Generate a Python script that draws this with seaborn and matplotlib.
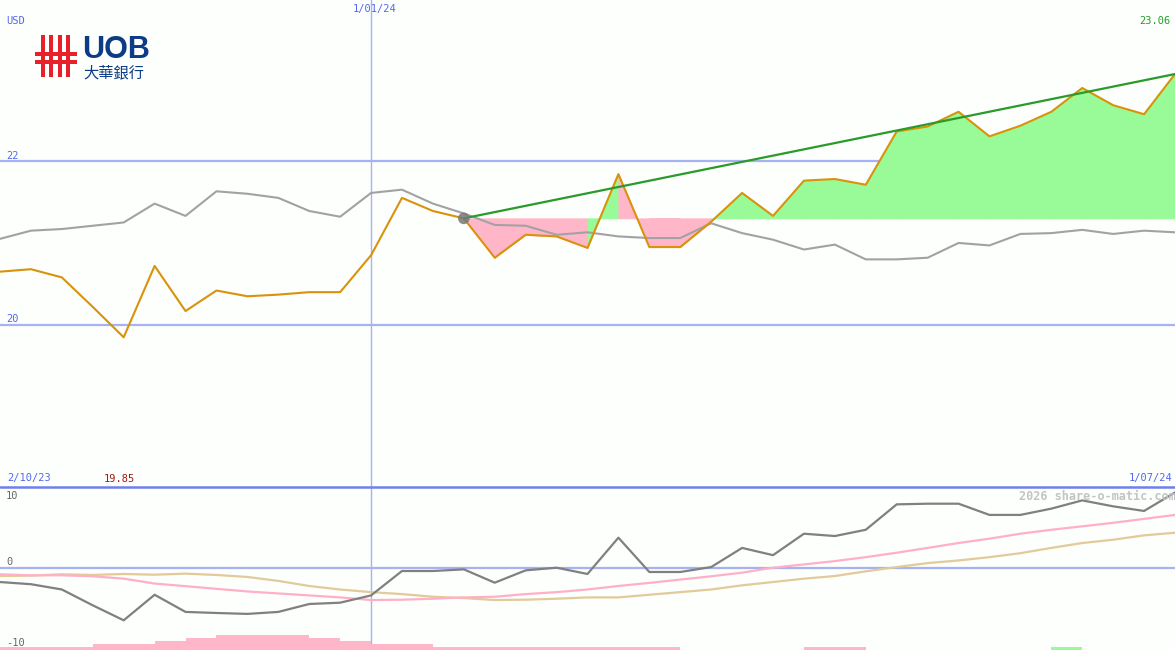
import numpy as np
import matplotlib
matplotlib.use("Agg")  # headless rendering
import matplotlib.pyplot as plt
import seaborn as sns
from matplotlib.patches import Rectangle
from matplotlib.lines import Line2D

# weekly closes, 2/10/23 .. 1/07/24 (USD)
price = [20.65, 20.68, 20.58, 20.22, 19.85, 20.72, 20.17, 20.42, 20.35, 20.37,
         20.40, 20.40, 20.85, 21.55, 21.39, 21.30, 20.82, 21.10, 21.08, 20.94,
         21.84, 20.95, 20.95, 21.26, 21.61, 21.33, 21.76, 21.78, 21.71, 22.36,
         22.42, 22.60, 22.30, 22.43, 22.60, 22.89, 22.68, 22.57, 23.06]
# moving average (grey)
ma = [21.05, 21.15, 21.17, 21.21, 21.25, 21.48, 21.33, 21.63, 21.60, 21.55,
      21.39, 21.32, 21.61, 21.65, 21.48, 21.36, 21.22, 21.21, 21.10, 21.13,
      21.08, 21.06, 21.06, 21.24, 21.12, 21.04, 20.92, 20.98, 20.80, 20.80,
      20.82, 21.00, 20.97, 21.11, 21.12, 21.16, 21.11, 21.15, 21.13]

# lower panel: oscillator + two signal lines + histogram
osc = [-2.17, -2.5, -3.3, -5.7, -7.97, -4.1, -6.7, -6.86, -7.0, -6.7,
       -5.5, -5.3, -4.2, -0.5, -0.5, -0.25, -2.27, -0.4, 0.0, -0.95,
       4.55, -0.65, -0.65, 0.1, 3.0, 1.9, 5.15, 4.8, 5.75, 9.6,
       9.7, 9.7, 8.0, 8.0, 8.95, 10.2, 9.3, 8.6, 11.4]
sig_pink = [-1.0, -1.15, -1.15, -1.3, -1.66, -2.4, -2.8, -3.2, -3.6, -3.9,
            -4.2, -4.5, -4.9, -4.85, -4.7, -4.5, -4.4, -4.0, -3.7, -3.3,
            -2.77, -2.3, -1.8, -1.3, -0.75, 0.0, 0.5, 1.0, 1.6, 2.27,
            3.0, 3.74, 4.4, 5.15, 5.75, 6.27, 6.8, 7.4, 8.0]
sig_tan = [-1.26, -1.2, -1.0, -1.1, -0.95, -1.06, -0.9, -1.1, -1.4, -2.0,
           -2.77, -3.3, -3.7, -4.0, -4.4, -4.6, -4.9, -4.85, -4.7, -4.5,
           -4.5, -4.1, -3.7, -3.3, -2.67, -2.17, -1.66, -1.26, -0.55, 0.1,
           0.7, 1.1, 1.6, 2.2, 3.0, 3.74, 4.24, 4.9, 5.3]
hist = [-0.46, -0.46, -0.46, -0.93, -0.93, -1.39, -1.85, -2.32, -2.32, -2.32,
        -1.85, -1.39, -0.93, -0.93, -0.46, -0.46, -0.46, -0.46, -0.46, -0.46,
        -0.46, -0.46, 0, 0, 0, 0, -0.46, -0.46, 0, 0,
        0, 0, 0, 0, 0.46, 0, 0, 0]

trend_start = 15      # week the trend line / fill starts from
year_week = 12        # 1/01/24
main_levels = [20, 22]
low_levels = [10, 0, -10]
start_label, mid_label, end_label = "2/10/23", "1/01/24", "1/07/24"

BG = "#fcfffc"
GRID = "#a6b2f2"
BLUE = "#5566ee"
GREEN_FILL = "#98fb98"
PINK_FILL = "#ffb6c8"

W, H = 1175, 650
n = len(price)
x = np.arange(n)

sns.set_theme(style="white")
plt.rcParams["font.family"] = ["DejaVu Sans Mono", "Noto Sans CJK TC"]

fig = plt.figure(figsize=(W / 100, H / 100), dpi=100, facecolor=BG)
ax = fig.add_axes([0, 163 / H, 1, 487 / H])
ax2 = fig.add_axes([0, 0, 1, 163 / H])


def ftext(px, py, s, **kw):
    fig.text(px / W, 1 - py / H, s, **kw)


# ---- main panel
for lv in main_levels:
    ax.axhline(lv, color=GRID, lw=1.6, zorder=1)
ax.axvline(year_week, color=GRID, lw=1.0, zorder=1)

base = price[trend_start]
for i in range(trend_start, n - 1):
    col = GREEN_FILL if price[i + 1] >= base else PINK_FILL
    ax.fill_between(x[i:i + 2], price[i:i + 2], base, color=col, lw=0.6, zorder=2)

sns.lineplot(x=x, y=ma, ax=ax, color="#a2a2a2", lw=1.5, zorder=3)
sns.lineplot(x=x, y=price, ax=ax, color="#d9920a", lw=1.5, zorder=4)
sns.lineplot(x=[trend_start, n - 1], y=[base, price[-1]], ax=ax,
             color="#2a9a2a", lw=1.6, zorder=5)
sns.scatterplot(x=[trend_start], y=[base], ax=ax, s=70, color="#777777",
                alpha=0.85, edgecolor="none", zorder=6)
ax.set_xlim(0, n - 1)
ax.set_ylim(18.024, 23.963)
ax.axis("off")

# ---- lower panel
lo, hi = -12.47, 12.23
ax2.axhline(0, color=GRID, lw=1.6, zorder=1)
ax2.axvline(year_week, color=GRID, lw=1.0, zorder=1)
ax2.bar(x[:-1], np.abs(hist), width=1, align="edge", bottom=lo, lw=0,
        color=[GREEN_FILL if v > 0 else PINK_FILL for v in hist], zorder=3)
sns.lineplot(x=x, y=sig_tan, ax=ax2, color="#e2ca9a", lw=1.6, zorder=4)
sns.lineplot(x=x, y=sig_pink, ax=ax2, color="#ffb0c8", lw=1.6, zorder=4)
sns.lineplot(x=x, y=osc, ax=ax2, color="#808080", lw=1.6, zorder=5)
ax2.set_xlim(0, n - 1)
ax2.set_ylim(lo, hi)
ax2.axis("off")

fig.add_artist(Line2D([0, 1], [163 / H, 163 / H], color="#7080ea", lw=1.8))

# ---- labels
fs = 7.5
ftext(6, 21, "USD", color=BLUE, fontsize=fs, va="center")
ftext(375, 9, mid_label, color=BLUE, fontsize=fs, va="center", ha="center")
ftext(1171, 21, f"{max(price):.2f}", color="#22a022", fontsize=fs, va="center", ha="right")
ftext(6, 156, str(main_levels[1]), color=BLUE, fontsize=fs, va="center")
ftext(6, 319.5, str(main_levels[0]), color=BLUE, fontsize=fs, va="center")
ftext(7, 478.5, start_label, color=BLUE, fontsize=fs, va="center")
ftext(104, 478.5, f"{min(price):.2f}", color="#a01818", fontsize=fs, va="center")
ftext(1172, 478.5, end_label, color=BLUE, fontsize=fs, va="center", ha="right")
for lv, py in zip(low_levels, [496, 562, 642.5]):
    ftext(6, py, str(lv), color="#666666", fontsize=fs, va="center")
ftext(1019, 496, "2026 share-o-matic.com", color="#c4c4c4", fontsize=8.6,
      fontweight="bold", va="center")

# ---- UOB logo
RED = "#e8202a"
for bx in [41, 49.5, 58, 66]:
    fig.add_artist(Rectangle((bx / W, 1 - 77 / H), 3.5 / W, 42 / H,
                             transform=fig.transFigure, color=RED, lw=0))
for by in [52, 60]:
    fig.add_artist(Rectangle((35 / W, 1 - (by + 4) / H), 42 / W, 4 / H,
                             transform=fig.transFigure, color=RED, lw=0))
ftext(82, 58, "UOB", color="#0d3b86", fontsize=22, fontweight="bold",
      family="Liberation Sans", va="baseline")
ftext(83, 77, "大華銀行", color="#0d3b86", fontsize=11,
      family=["Noto Sans CJK TC", "DejaVu Sans"], va="baseline")

fig.savefig("out.png", dpi=100, facecolor=BG)
plt.close(fig)
